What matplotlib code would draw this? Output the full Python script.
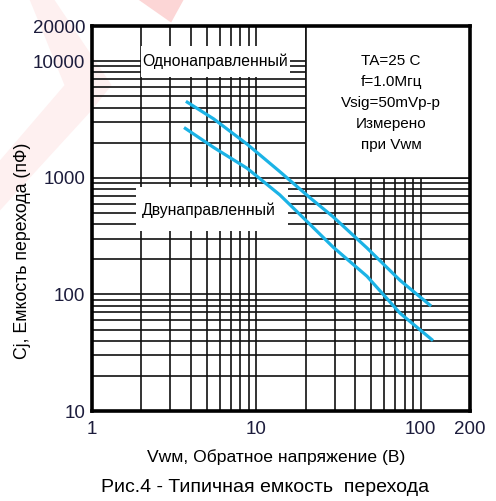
import numpy as np
import matplotlib.pyplot as plt
from matplotlib.patches import Rectangle, Polygon
from matplotlib.ticker import FixedLocator, FixedFormatter, LogLocator, NullFormatter

# Значения (В, пФ)
v_uni = [3.8, 5.5, 8.8, 13.9, 21.2, 29.3, 47.2, 75, 114]
c_uni = [4450, 3200, 1940, 1130, 675, 464, 250, 132, 81]
v_bi = [3.7, 5.5, 8.8, 13.9, 18.5, 29.3, 47.2, 75, 117]
c_bi = [2650, 1820, 1205, 714, 482, 255, 143, 69, 41]

x_ticks = [1, 10, 100, 200]
y_ticks = [10, 100, 1000, 10000, 20000]

label_uni = 'Однонаправленный'
label_bi = 'Двунаправленный'
conditions = 'TA=25 C\nf=1.0Мгц\nVsig=50mVp-p\nИзмерено\nпри Vwм'

plt.rcParams['font.family'] = ['Liberation Sans', 'DejaVu Sans']
tick_color = '#1c1c3c'
line_color = '#1bb3e6'

fig = plt.figure(figsize=(4.96, 5.01), dpi=100)

# бледный водяной знак на фоне
fig.add_artist(Polygon([(0.28, 1.0), (0.37, 1.0), (0.345, 0.955)], closed=True,
                       transform=fig.transFigure, facecolor='#fcd6d6',
                       edgecolor='none', zorder=-5))
fig.add_artist(Polygon([(0.06, 1.0), (0.11, 1.0), (0.225, 0.83), (0.185, 0.78), (0.0, 0.58),
                        (0.0, 0.68), (0.13, 0.83)], closed=True,
                       transform=fig.transFigure, facecolor='#fef0f0',
                       edgecolor='none', zorder=-5))

ax = fig.add_axes([0.1855, 0.1796, 0.7621, 0.7684])
ax.patch.set_alpha(0)
ax.set_xscale('log')
ax.set_yscale('log')
ax.set_xlim(1, 200)
ax.set_ylim(10, 20000)

ax.xaxis.set_major_locator(FixedLocator(x_ticks))
ax.xaxis.set_major_formatter(FixedFormatter([str(t) for t in x_ticks]))
ax.xaxis.set_minor_locator(LogLocator(subs=np.arange(2, 10)))
ax.xaxis.set_minor_formatter(NullFormatter())
ax.yaxis.set_major_locator(FixedLocator(y_ticks))
ax.yaxis.set_major_formatter(FixedFormatter([str(t) for t in y_ticks]))
ax.yaxis.set_minor_locator(LogLocator(subs=np.arange(2, 10)))
ax.yaxis.set_minor_formatter(NullFormatter())

ax.grid(True, which='both', color='#111111', lw=1.2)
ax.set_axisbelow(True)
ax.tick_params(which='both', length=0, labelsize=13.5, labelcolor=tick_color)
ax.tick_params(axis='x', pad=7)
ax.tick_params(axis='y', pad=5)
for s in ax.spines.values():
    s.set_linewidth(2.6)
    s.set_color('black')

# белые поля под подписями
ax.add_patch(Rectangle((0.130, 0.868), 0.394, 0.080, transform=ax.transAxes,
                       facecolor='white', edgecolor='none', zorder=2))
ax.add_patch(Rectangle((0.116, 0.468), 0.403, 0.114, transform=ax.transAxes,
                       facecolor='white', edgecolor='none', zorder=2))
ax.add_patch(Rectangle((20, 1000), 180, 19000, facecolor='white',
                       edgecolor='#111111', lw=1.2, zorder=2))

ax.plot(v_uni, c_uni, color=line_color, lw=2.3, zorder=4)
ax.plot(v_bi, c_bi, color=line_color, lw=2.3, zorder=4)

ax.text(0.327, 0.909, label_uni, transform=ax.transAxes, ha='center', va='center',
        fontsize=11.3, zorder=5)
ax.text(0.31, 0.522, label_bi, transform=ax.transAxes, ha='center', va='center',
        fontsize=11.3, zorder=5)
ax.text(0.791, 0.80, conditions, transform=ax.transAxes, ha='center', va='center',
        fontsize=11, linespacing=1.62, zorder=5)

ax.set_xlabel('Vwм, Обратное напряжение (В)', fontsize=12.6, va='center')
ax.xaxis.set_label_coords(0.487, -0.119)
ax.set_ylabel('Cj, Емкость перехода (пФ)', fontsize=12.8, va='center')
ax.yaxis.set_label_coords(-0.185, 0.416)

fig.text(0.535, 0.026, 'Рис.4 - Типичная емкость  перехода', ha='center', va='center',
         fontsize=14)

plt.savefig('out.png', dpi=100)
